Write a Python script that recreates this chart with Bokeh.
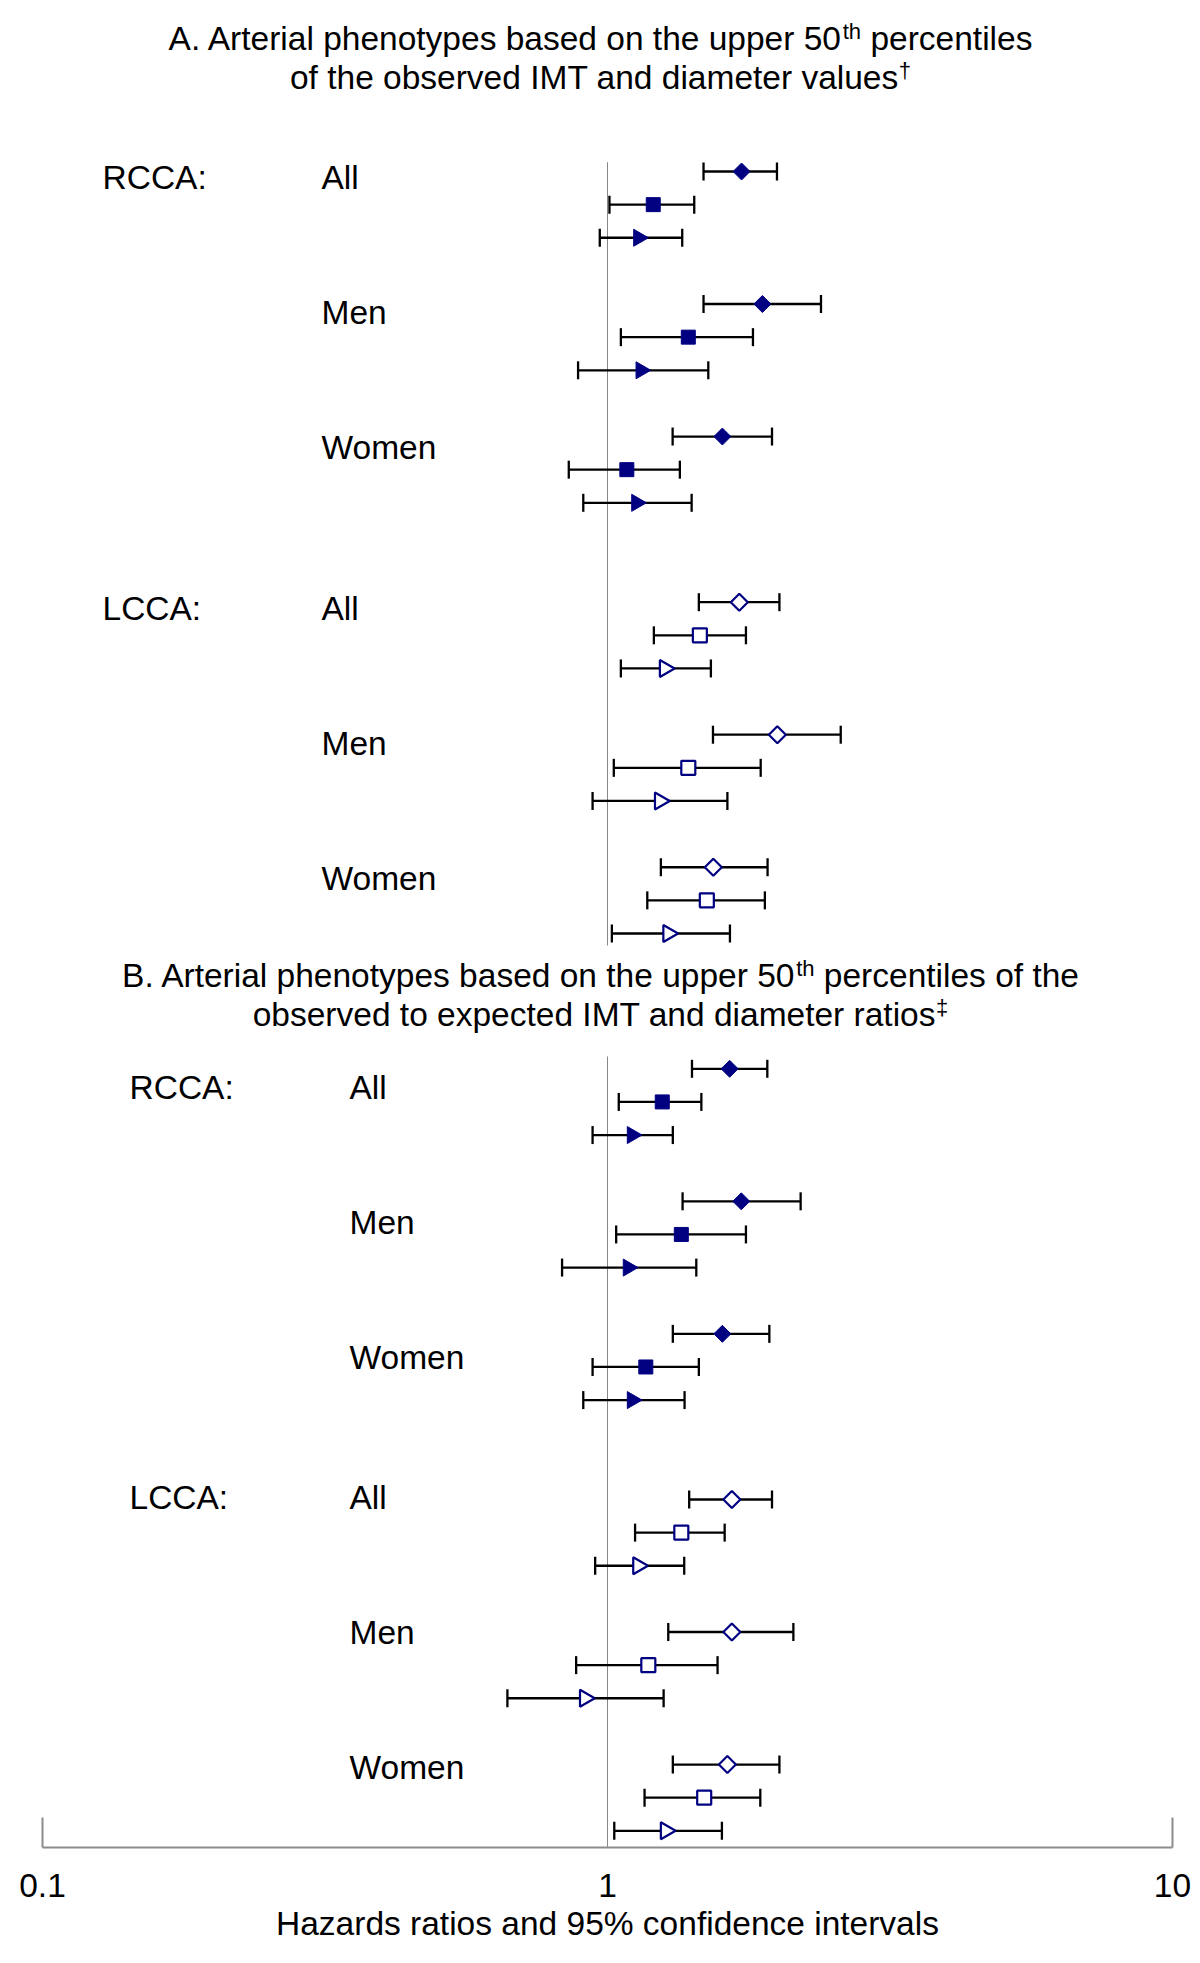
import numpy as np
from bokeh.plotting import figure
from bokeh.models import (ColumnDataSource, Whisker, TeeHead, FixedTicker, Range1d,
                          BasicTickFormatter)
from bokeh.core.properties import value
from bokeh.embed import file_html
from bokeh.resources import INLINE

# ---------------- data (hazard ratio, lower 95% CI, upper 95% CI) ----------------
# row order within each artery: All (diamond, square, triangle), Men (...), Women (...)
sex_groups = ["All", "Men", "Women"]
arteries = ["RCCA:", "LCCA:"]
tick_values = [0.1, 1, 10]
tick_labels = ["0.1", "1", "10"]

a_rcca_hr = [1.727, 1.205, 1.135, 1.880, 1.390, 1.146, 1.597, 1.082, 1.126]
a_rcca_lo = [1.479, 1.008, 0.969, 1.479, 1.056, 0.887, 1.304, 0.854, 0.906]
a_rcca_hi = [1.995, 1.424, 1.356, 2.387, 1.809, 1.508, 1.955, 1.343, 1.409]

a_lcca_hr = [1.711, 1.457, 1.263, 1.998, 1.390, 1.238, 1.539, 1.499, 1.281]
a_lcca_lo = [1.451, 1.208, 1.056, 1.537, 1.026, 0.941, 1.243, 1.176, 1.018]
a_lcca_hi = [2.015, 1.758, 1.524, 2.587, 1.867, 1.630, 1.920, 1.899, 1.647]

b_rcca_hr = [1.645, 1.250, 1.106, 1.725, 1.351, 1.088, 1.597, 1.169, 1.106]
b_rcca_lo = [1.411, 1.047, 0.941, 1.358, 1.036, 0.831, 1.305, 0.941, 0.906]
b_rcca_hi = [1.918, 1.466, 1.305, 2.197, 1.758, 1.436, 1.934, 1.451, 1.369]

b_lcca_hr = [1.660, 1.351, 1.133, 1.660, 1.181, 0.912, 1.630, 1.483, 1.268]
b_lcca_lo = [1.395, 1.119, 0.951, 1.281, 0.880, 0.665, 1.305, 1.163, 1.028]
b_lcca_hi = [1.955, 1.612, 1.367, 2.133, 1.566, 1.257, 2.015, 1.864, 1.594]

title_a = [("A. Arterial phenotypes based on the upper 50", "th", "percentiles"),
           ("of the observed IMT and diameter values", "\u2020", "")]
title_b = [("B. Arterial phenotypes based on the upper 50", "th", "percentiles of the"),
           ("observed to expected IMT and diameter ratios", "\u2021", "")]
x_label = "Hazards ratios and 95% confidence intervals"

# ---------------- layout / style ----------------
FONT = "Liberation Sans"
FS = 33.5
SUP_FS = 22
NAVY = "#000080"
GRAY = "#8c8c8c"
Y0 = 171.0
PANEL_DY = 897.3
ROW_DY = 33.13
RCCA_SLOTS = [0, 1, 2, 4, 5, 6, 8, 9, 10]
LCCA_SLOTS = [13, 14, 15, 17, 18, 19, 21, 22, 23]
SEX_LABEL_SHIFT = [0, 2.5, 5]
BASE_FIX = 0.39  # em shift between wanted baseline and the y given to the text glyph
BAR_W = 2.3

# Arial/Liberation Sans advance widths (per 1000 em) for title layout
ADV = {' ': 278, '.': 278, 'A': 667, 'B': 667, 'I': 278, 'M': 833, 'T': 611, 'r': 333,
       't': 278, 'e': 556, 'i': 222, 'a': 556, 'l': 222, 'p': 556, 'h': 556, 'n': 556,
       'o': 556, 'y': 500, 's': 500, 'b': 556, 'd': 556, 'u': 556, 'c': 500, 'f': 278,
       'v': 500, 'm': 833, 'x': 500, '0': 556, '5': 556, '\u2020': 556, '\u2021': 556}


def tw(s, fs):
    return sum(ADV.get(ch, 556) for ch in s) * fs / 1000.0


def to_data(px):
    return 10 ** ((px - 42) / 565.0 - 1)


p = figure(width=1192, height=1955, x_axis_type="log",
           x_range=Range1d(0.1, 10), y_range=Range1d(1847, 8),
           output_backend="svg", toolbar_location=None, y_axis_location=None,
           min_border_left=42, min_border_right=20, min_border_top=8,
           min_border_bottom=108)
p.grid.visible = False
p.outline_line_color = None
p.background_fill_color = "white"
p.border_fill_color = "white"

ax = p.xaxis[0]
ax.ticker = FixedTicker(ticks=tick_values, minor_ticks=[tick_values[0], tick_values[-1]])
ax.formatter = BasicTickFormatter(use_scientific=False)
ax.major_label_overrides = {v: s for v, s in zip(tick_values, tick_labels)}
ax.major_label_text_font = FONT
ax.major_label_text_font_size = f"{FS}px"
ax.major_label_text_color = "black"
ax.major_label_standoff = 26
ax.major_tick_in = 0
ax.major_tick_out = 0
ax.major_tick_line_color = None
ax.minor_tick_in = 30
ax.minor_tick_out = 0
ax.minor_tick_line_color = GRAY
ax.minor_tick_line_width = 2
ax.axis_line_color = GRAY
ax.axis_line_width = 2
ax.axis_label = x_label
ax.axis_label_text_font = FONT
ax.axis_label_text_font_size = f"{FS}px"
ax.axis_label_text_font_style = "normal"
ax.axis_label_text_color = "black"
ax.axis_label_standoff = 5

# reference lines at HR = 1
ref = p.segment(x0=[1, 1], x1=[1, 1], y0=[161.7, 1056], y1=[945, 1847],
                line_color="#888888", line_width=1)
ref.level = "underlay"


def put_text(px, yb, txt, fs):
    p.text(x=[to_data(x) for x in px], y=[y - BASE_FIX * fs for y in yb], text=txt,
           text_font=value(FONT), text_font_size=value(f"{fs}px"),
           text_align="left", text_baseline="alphabetic", text_color="black")


panels = [
    (0, [(a_rcca_hr, a_rcca_lo, a_rcca_hi, RCCA_SLOTS, True),
         (a_lcca_hr, a_lcca_lo, a_lcca_hi, LCCA_SLOTS, False)], (102, 321), (19, 19)),
    (1, [(b_rcca_hr, b_rcca_lo, b_rcca_hi, RCCA_SLOTS, True),
         (b_lcca_hr, b_lcca_lo, b_lcca_hi, LCCA_SLOTS, False)], (129, 349), (32, 11)),
]

for pi, series, (lx_art, lx_sex), offs in panels:
    for ai, (hr, lo, hi, slots, filled) in enumerate(series):
        ys = [Y0 + pi * PANEL_DY + s * ROW_DY for s in slots]
        src = ColumnDataSource(dict(y=ys, hr=hr, lo=lo, hi=hi))
        w = Whisker(source=src, base="y", lower="lo", upper="hi", dimension="width",
                    line_color="black", line_width=BAR_W, level="underlay",
                    upper_head=TeeHead(size=18, line_color="black", line_width=BAR_W),
                    lower_head=TeeHead(size=18, line_color="black", line_width=BAR_W))
        p.add_layout(w)
        fill = NAVY if filled else "white"
        lw = 1 if filled else 2.2
        for k, (mk, ang, sz) in enumerate([("square", np.pi / 4, 12),
                                            ("square", 0, 14),
                                            ("triangle", -np.pi / 2, 17)]):
            idx = list(range(k, 9, 3))
            sub = ColumnDataSource(dict(x=[hr[i] for i in idx], y=[ys[i] for i in idx]))
            p.scatter(x="x", y="y", source=sub, marker=mk, angle=ang, size=sz,
                      fill_color=fill, line_color=NAVY, line_width=lw)
        lab_y = [ys[3 * g] + offs[ai] + SEX_LABEL_SHIFT[g] for g in range(3)]
        put_text([lx_art], [ys[0] + offs[ai]], [arteries[ai]], FS)
        put_text([lx_sex] * 3, lab_y, sex_groups, FS)


def draw_title(lines, baselines, center_px=600.0):
    for (main, sup, rest), yb in zip(lines, baselines):
        gap = tw(" ", FS) if rest else 0.0
        total = tw(main, FS) + tw(sup, SUP_FS) + gap + tw(rest, FS)
        x0 = center_px - total / 2.0
        x1 = x0 + tw(main, FS)
        x2 = x1 + tw(sup, SUP_FS) + gap
        put_text([x0], [yb], [main], FS)
        put_text([x1], [yb - 11], [sup], SUP_FS)
        if rest:
            put_text([x2], [yb], [rest], FS)


draw_title(title_a, [50.8, 89.6])
draw_title(title_b, [988.0, 1026.8])

open("out.html", "w").write(file_html(p, INLINE))
